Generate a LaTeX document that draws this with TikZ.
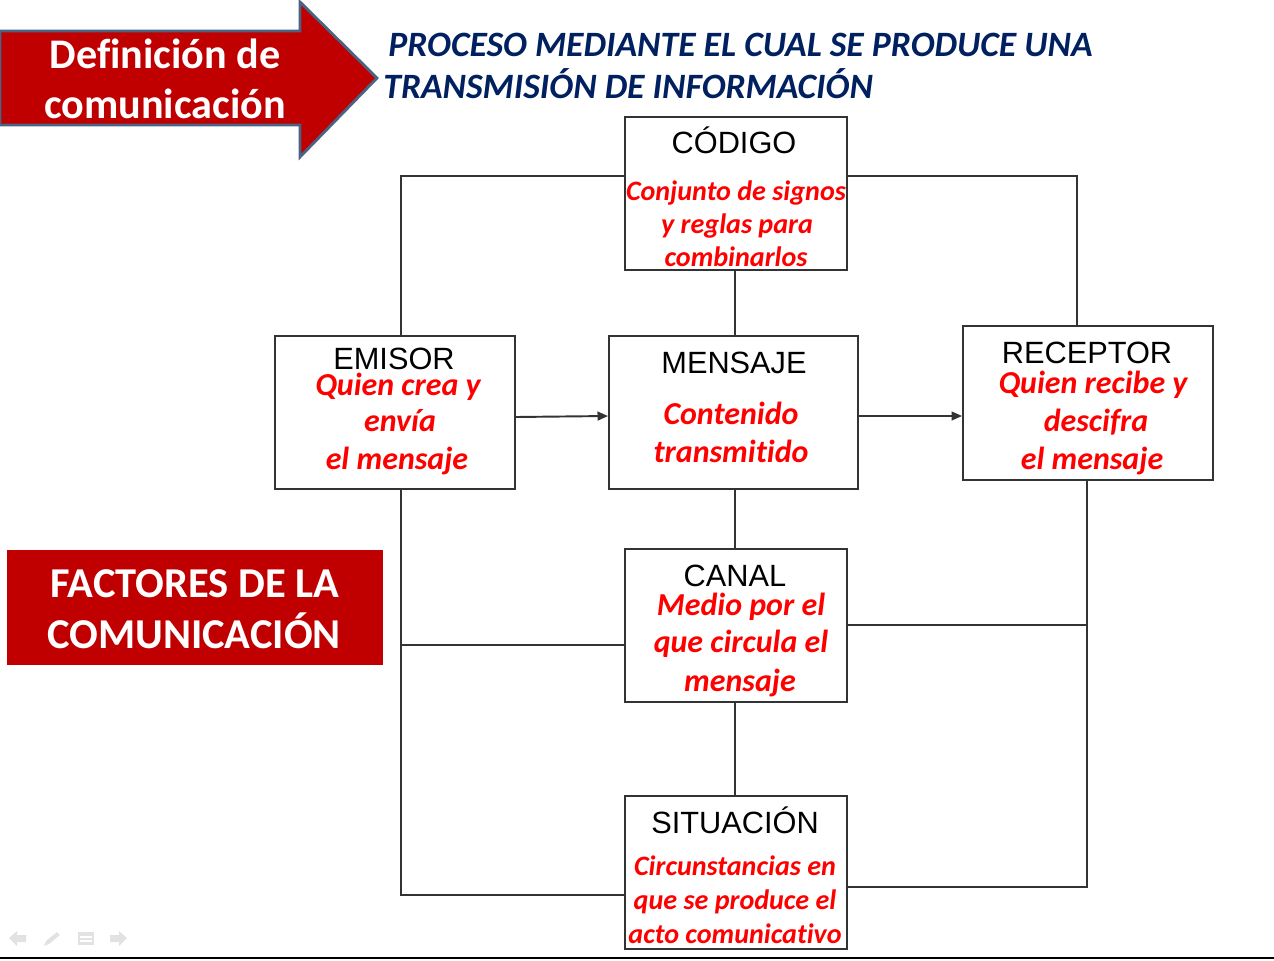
\documentclass[tikz,border=0pt]{standalone}
\usepackage{fontspec}
\setmainfont{Carlito}[Ligatures=NoCommon]
\newfontfamily\arialf{Liberation Sans}
\usetikzlibrary{arrows.meta}
\definecolor{boxred}{HTML}{C00000}
\definecolor{navy}{HTML}{002060}
\definecolor{arrowedge}{HTML}{4A6283}
\definecolor{linegray}{HTML}{333333}
\definecolor{txtred}{HTML}{FF0000}
\definecolor{icongray}{HTML}{E2E2E2}
\tikzset{
  factorbox/.style={draw=linegray, line width=1.1pt, fill=white, rectangle, inner sep=0pt},
  head/.style={font=\arialf\fontsize{17.5}{20}\selectfont, text=black, anchor=base, inner sep=0pt},
  body/.style={font=\bfseries\itshape\fontsize{16}{18}\selectfont, text=txtred, anchor=base, inner sep=0pt},
  bodybig/.style={body, font=\bfseries\itshape\fontsize{18.2}{20}\selectfont},
  wline/.style={draw=linegray, line width=1.1pt},
  warrow/.style={wline, -{Triangle[length=6pt,width=5pt]}},
  whitebig/.style={font=\bfseries\fontsize{24}{28}\selectfont, text=white, anchor=base, inner sep=0pt},
  titletxt/.style={font=\bfseries\itshape\fontsize{20.3}{24}\selectfont, text=navy, anchor=base west, inner sep=0pt},
}
\begin{document}
\begin{tikzpicture}[x=0.02cm,y=-0.02cm]
\useasboundingbox (0,0) rectangle (1274,960);
% arrow
\draw[fill=boxred, draw=arrowedge, line width=1.6pt, line join=miter]
  (0,31) -- (300,31) -- (300,2) -- (377,78) -- (300,157) -- (300,125) -- (0,125) -- cycle;
\node[whitebig] (def1) at (165,68) {Definición de};
\node[whitebig] (def2) at (165,118) {comunicación};
% title
\node[titletxt] (t1) at (388,56) {PROCESO MEDIANTE EL CUAL SE PRODUCE UNA};
\node[titletxt] (t2) at (383,98) {TRANSMISIÓN DE INFORMACIÓN};
% factores box
\node[fill=boxred, minimum width=7.52cm, minimum height=2.3cm, inner sep=0pt] (fac) at (195,607.5) {};
\node[whitebig, font=\bfseries\fontsize{24.2}{28}\selectfont] (fac1) at (195,597) {FACTORES DE LA};
\node[whitebig, font=\bfseries\fontsize{24.2}{28}\selectfont] (fac2) at (194,648) {COMUNICACIÓN};
% boxes
\node[factorbox, minimum width=4.44cm, minimum height=3.06cm] (cod) at (736,193.5) {};
\node[factorbox, minimum width=4.8cm, minimum height=3.06cm] (emi) at (395,412.5) {};
\node[factorbox, minimum width=4.98cm, minimum height=3.06cm] (men) at (733.5,412.5) {};
\node[factorbox, minimum width=5.0cm, minimum height=3.08cm] (rec) at (1088,403) {};
\node[factorbox, minimum width=4.44cm, minimum height=3.06cm] (can) at (736,625.5) {};
\node[factorbox, minimum width=4.44cm, minimum height=3.06cm] (sit) at (736,872.5) {};
% connectors
\coordinate (j1) at (401,645);
\coordinate (j2) at (1087,625);
\draw[wline] (emi.north -| 401,0) |- (cod.west |- 0,176);
\draw[wline] (cod.east |- 0,176) -| (rec.north -| 1077,0);
\draw[wline] (cod.south -| 735,0) -- (men.north -| 735,0);
\draw[warrow] (emi.east |- 0,417) -- (men.west |- 0,416);
\draw[warrow] (men.east |- 0,416) -- (rec.west |- 0,416);
\draw[wline] (men.south -| 735,0) -- (can.north -| 735,0);
\draw[wline] (emi.south -| 401,0) |- (sit.west |- 0,895);
\draw[wline] (j1) -- (can.west |- j1);
\draw[wline] (rec.south -| 1087,0) |- (sit.east |- 0,887);
\draw[wline] (can.east |- j2) -- (j2);
\draw[wline] (can.south -| 735,0) -- (sit.north -| 735,0);
% texts
\node[head] (codh) at (734,153) {CÓDIGO};
\node[body] (cod1) at (736,200) {Conjunto de signos};
\node[body] (cod2) at (737,233) {y reglas para};
\node[body] (cod3) at (736,266) {combinarlos};
\node[head] (emih) at (394,369) {EMISOR};
\node[bodybig] (emi1) at (398,395) {Quien crea y};
\node[bodybig] (emi2) at (400,431) {envía};
\node[bodybig] (emi3) at (397,469) {el mensaje};
\node[head] (menh) at (734,373) {MENSAJE};
\node[bodybig] (men1) at (731,424) {Contenido};
\node[bodybig] (men2) at (731,462) {transmitido};
\node[head] (rech) at (1087,363) {RECEPTOR};
\node[bodybig] (rec1) at (1093,393) {Quien recibe y};
\node[bodybig] (rec2) at (1096,431) {descifra};
\node[bodybig] (rec3) at (1092,469) {el mensaje};
\node[head] (canh) at (735,586) {CANAL};
\node[bodybig] (can1) at (741,615) {Medio por el};
\node[bodybig] (can2) at (741,652) {que circula el};
\node[bodybig] (can3) at (740,691) {mensaje};
\node[head] (sith) at (735,833) {SITUACIÓN};
\node[body] (sit1) at (735,875) {Circunstancias en};
\node[body] (sit2) at (735,909) {que se produce el};
\node[body] (sit3) at (735,943) {acto comunicativo};
% bottom line
\draw[black, line width=1.2pt] (0,958) -- (1274,958);
% slide navigation icons
\fill[icongray] (9,938) -- (17,931) -- (17,935) -- (26,935) -- (26,942) -- (17,942) -- (17,946) -- cycle;
\fill[icongray] (44,946) -- (46,941) -- (57,932) -- (60,935) -- (49,944) -- cycle;
\fill[icongray] (78,932) rectangle (94,945);
\draw[white, line width=0.8pt] (80,937) -- (92,937) (80,941) -- (92,941);
\fill[icongray] (127,938) -- (119,931) -- (119,935) -- (110,935) -- (110,942) -- (119,942) -- (119,946) -- cycle;
\end{tikzpicture}
\end{document}
